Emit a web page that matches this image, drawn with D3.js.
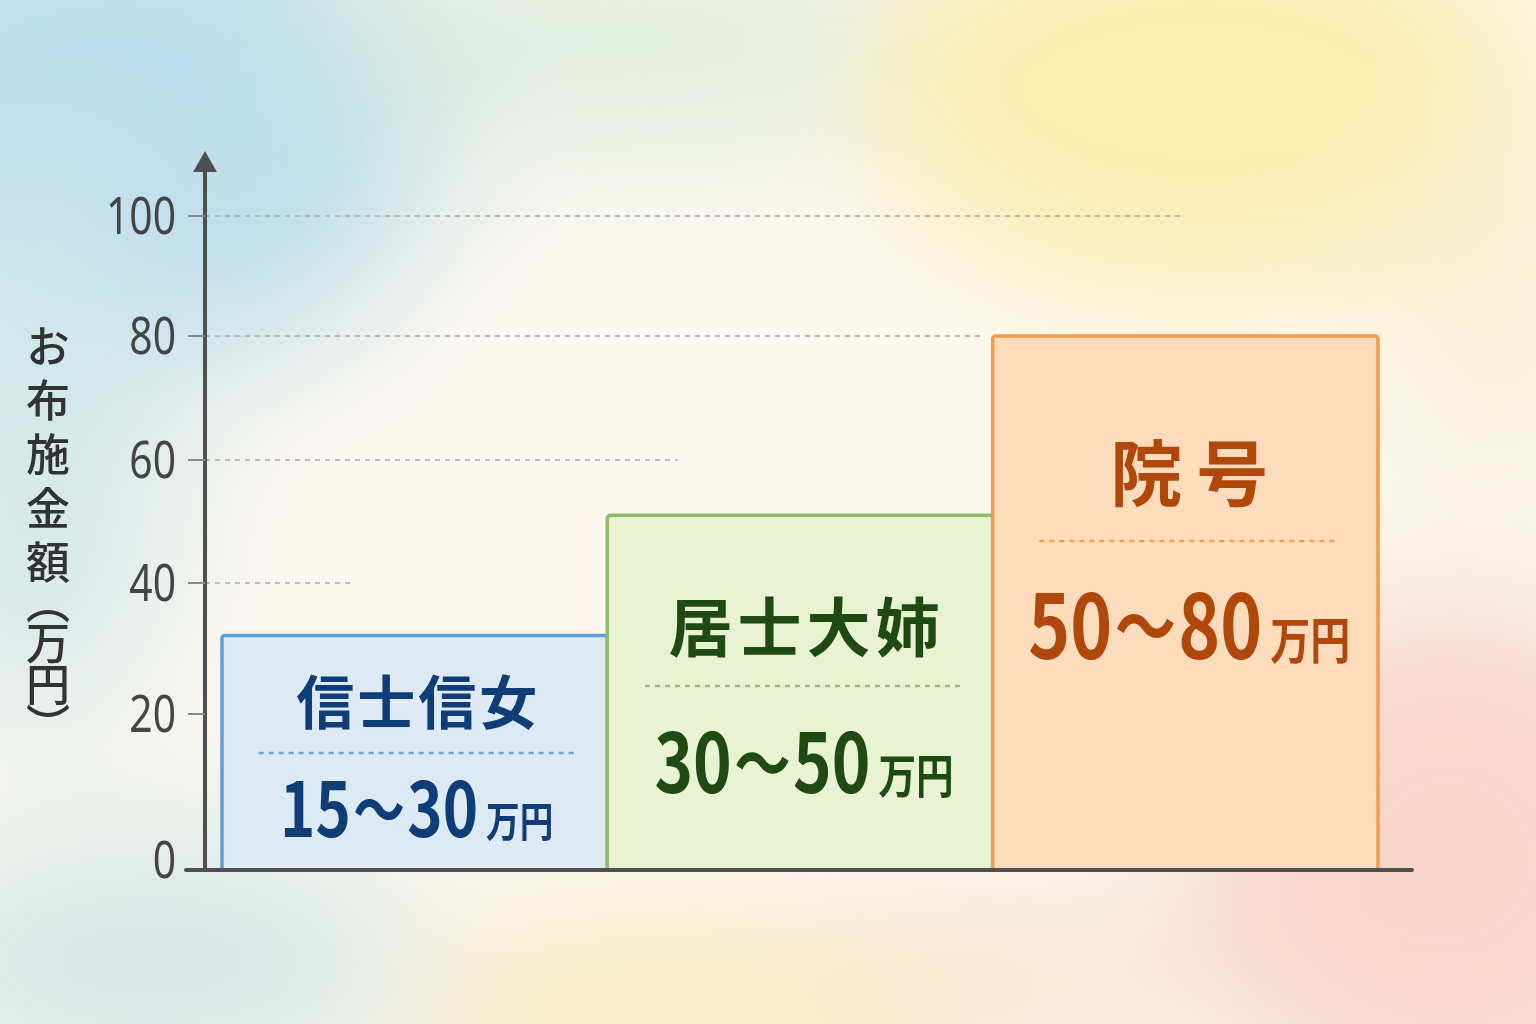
<!DOCTYPE html>
<html>
<head>
<meta charset="utf-8">
<script src="https://cdn.jsdelivr.net/npm/d3@7"></script>
<style>
  html, body { margin: 0; padding: 0; background: #fbf7ee; }
  svg { display: block; }
</style>
</head>
<body>
<script>
// data
var categories = ["信士信女", "居士大姉", "院号"];
var rangeLow = [15, 30, 50];
var rangeHigh = [30, 50, 80];
var barValues = [32, 51, 80];
var tickValues = [0, 20, 40, 60, 80, 100];
var gridTicks = [40, 60, 80, 100];
var gridEndX = [355, 678, 985, 1180];

var barFill = ["#dde9f3", "#eaf2d6", "#fddcbd"];
var barStroke = ["#5f9fd6", "#8dbd68", "#f59a48"];
var textColor = ["#0f3d78", "#1f4a12", "#b0480c"];
var dotColor = ["#6da8dc", "#94c26e", "#f5a04e"];
var titleSize = [58, 64, 72];
var titleSpacing = [3, 5, 14];
var valueSize = [75, 82, 89];
var unitSize = [42, 47, 50];

var width = 1536, height = 1024;

var svg = d3.select("body").append("svg")
    .attr("width", width)
    .attr("height", height);

var defs = svg.append("defs");
defs.append("filter").attr("id", "soft")
    .attr("x", "-50%").attr("y", "-50%").attr("width", "200%").attr("height", "200%")
  .append("feGaussianBlur").attr("stdDeviation", 70);

// watercolour background
svg.append("rect").attr("width", width).attr("height", height).attr("fill", "#fcf8ef");
var blobs = [
  {x: 120, y: 120, rx: 330, ry: 260, c: "#bcdcec", o: 0.95},
  {x: 30, y: 450, rx: 150, ry: 280, c: "#cfe6ea", o: 0.85},
  {x: 620, y: 40, rx: 300, ry: 110, c: "#d7ead9", o: 0.8},
  {x: 1200, y: 90, rx: 330, ry: 200, c: "#fbeaa8", o: 0.9},
  {x: 1500, y: 300, rx: 120, ry: 200, c: "#f8ecd0", o: 0.7},
  {x: 1450, y: 860, rx: 260, ry: 260, c: "#f6d0c6", o: 0.9},
  {x: 700, y: 1010, rx: 320, ry: 90, c: "#f7e6b6", o: 0.8},
  {x: 150, y: 960, rx: 260, ry: 140, c: "#d3e7e6", o: 0.9},
  {x: 1050, y: 980, rx: 250, ry: 80, c: "#f8dcc8", o: 0.7}
];
svg.append("g").attr("filter", "url(#soft)")
  .selectAll("ellipse").data(blobs).enter().append("ellipse")
    .attr("cx", function(d) { return d.x; })
    .attr("cy", function(d) { return d.y; })
    .attr("rx", function(d) { return d.rx; })
    .attr("ry", function(d) { return d.ry; })
    .attr("fill", function(d) { return d.c; })
    .attr("opacity", function(d) { return d.o; });

// scales
var y = d3.scaleLinear()
    .domain([0, 20, 40, 60, 80, 100])
    .range([870, 714, 583, 460, 336, 216]);

var x = d3.scaleBand()
    .domain(categories)
    .range([222, 1378])
    .padding(0);

var axisX = 205;

// grid lines
svg.append("g").selectAll("line").data(gridTicks).enter().append("line")
    .attr("x1", axisX)
    .attr("x2", function(d, i) { return gridEndX[i]; })
    .attr("y1", function(d) { return y(d); })
    .attr("y2", function(d) { return y(d); })
    .attr("stroke", "#a9a9a9")
    .attr("stroke-width", 1.3)
    .attr("stroke-dasharray", "5,5");

// bars
var bar = svg.append("g").selectAll("g").data(categories).enter().append("g");

bar.append("rect")
    .attr("x", function(d) { return x(d); })
    .attr("y", function(d, i) { return y(barValues[i]); })
    .attr("width", x.bandwidth())
    .attr("height", function(d, i) { return y(0) - y(barValues[i]); })
    .attr("rx", 3)
    .attr("fill", function(d, i) { return barFill[i]; })
    .attr("stroke", function(d, i) { return barStroke[i]; })
    .attr("stroke-width", 3.5);

// bar labels: name, dotted rule, price range
var labelFont = "'Noto Sans CJK JP', 'Noto Sans', sans-serif";
var titleY = [724, 651, 500];
var ruleY = [753, 686, 541];
var valueY = [837, 793, 659];
var ruleHalf = [158, 159, 150];
var shiftX = [2, 4, 4];

bar.append("text")
    .attr("x", function(d, i) { return x(d) + x.bandwidth() / 2 + titleSpacing[i] / 2 + shiftX[i]; })
    .attr("y", function(d, i) { return titleY[i]; })
    .attr("text-anchor", "middle")
    .attr("font-family", labelFont)
    .attr("font-weight", 700)
    .attr("font-size", function(d, i) { return titleSize[i]; })
    .attr("letter-spacing", function(d, i) { return titleSpacing[i]; })
    .attr("fill", function(d, i) { return textColor[i]; })
    .text(function(d) { return d; });

bar.append("line")
    .attr("x1", function(d, i) { return x(d) + x.bandwidth() / 2 + shiftX[i] - ruleHalf[i]; })
    .attr("x2", function(d, i) { return x(d) + x.bandwidth() / 2 + shiftX[i] + ruleHalf[i]; })
    .attr("y1", function(d, i) { return ruleY[i]; })
    .attr("y2", function(d, i) { return ruleY[i]; })
    .attr("stroke", function(d, i) { return dotColor[i]; })
    .attr("stroke-width", 2.5)
    .attr("stroke-dasharray", "5,5");

// price text is condensed horizontally like the original lettering
var val = bar.append("text")
    .attr("transform", function(d, i) {
      return "translate(" + (x(d) + x.bandwidth() / 2 + shiftX[i]) + "," + valueY[i] + ") scale(0.8,1)";
    })
    .attr("text-anchor", "middle")
    .attr("font-family", labelFont)
    .attr("font-weight", 700)
    .attr("fill", function(d, i) { return textColor[i]; });
val.append("tspan")
    .attr("font-size", function(d, i) { return valueSize[i]; })
    .text(function(d, i) { return rangeLow[i]; });
val.append("tspan")
    .attr("font-size", function(d, i) { return valueSize[i] * 0.86; })
    .attr("dy", function(d, i) { return -valueSize[i] * 0.04; })
    .attr("dx", 3)
    .text("～");
val.append("tspan")
    .attr("font-size", function(d, i) { return valueSize[i]; })
    .attr("dy", function(d, i) { return valueSize[i] * 0.04; })
    .attr("dx", 3)
    .text(function(d, i) { return rangeHigh[i]; });
val.append("tspan")
    .attr("dx", 10)
    .attr("font-size", function(d, i) { return unitSize[i]; })
    .text("万円");

// axes
var axisColor = "#505050";
svg.append("line")
    .attr("x1", 186).attr("x2", 1412)
    .attr("y1", y(0)).attr("y2", y(0))
    .attr("stroke", axisColor).attr("stroke-width", 4)
    .attr("stroke-linecap", "round");
svg.append("line")
    .attr("x1", axisX).attr("x2", axisX)
    .attr("y1", y(0)).attr("y2", 168)
    .attr("stroke", axisColor).attr("stroke-width", 4);
svg.append("path")
    .attr("d", "M" + (axisX - 12) + ",172 L" + axisX + ",151 L" + (axisX + 12) + ",172 Z")
    .attr("fill", axisColor);

var tick = svg.append("g").selectAll("g").data(tickValues).enter().append("g");
tick.filter(function(d) { return d > 0; }).append("line")
    .attr("x1", 188).attr("x2", axisX)
    .attr("y1", function(d) { return y(d); })
    .attr("y2", function(d) { return y(d); })
    .attr("stroke", "#8a8a8a").attr("stroke-width", 2);
tick.append("text")
    .attr("transform", function(d) {
      return "translate(176," + (d === 0 ? y(d) - 10 : y(d)) + ") scale(0.8,1)";
    })
    .attr("dy", "0.36em")
    .attr("text-anchor", "end")
    .attr("font-family", "'Noto Sans', 'DejaVu Sans', sans-serif")
    .attr("font-size", 51)
    .attr("fill", "#454545")
    .text(function(d) { return d; });

// y axis title, vertical (the bracketed unit is set tighter)
var titleStyle = function(t) {
  t.attr("x", 48)
    .attr("font-family", "'Noto Sans CJK JP', sans-serif")
    .attr("font-weight", 500)
    .attr("font-size", 44)
    .attr("fill", "#333")
    .style("writing-mode", "vertical-rl");
};
svg.append("text").call(titleStyle)
    .attr("y", 324)
    .style("letter-spacing", "10px")
    .text("お布施金額");
svg.append("text").call(titleStyle)
    .attr("y", 580)
    .style("letter-spacing", "-3px")
    .text("（万円）");
</script>
</body>
</html>
